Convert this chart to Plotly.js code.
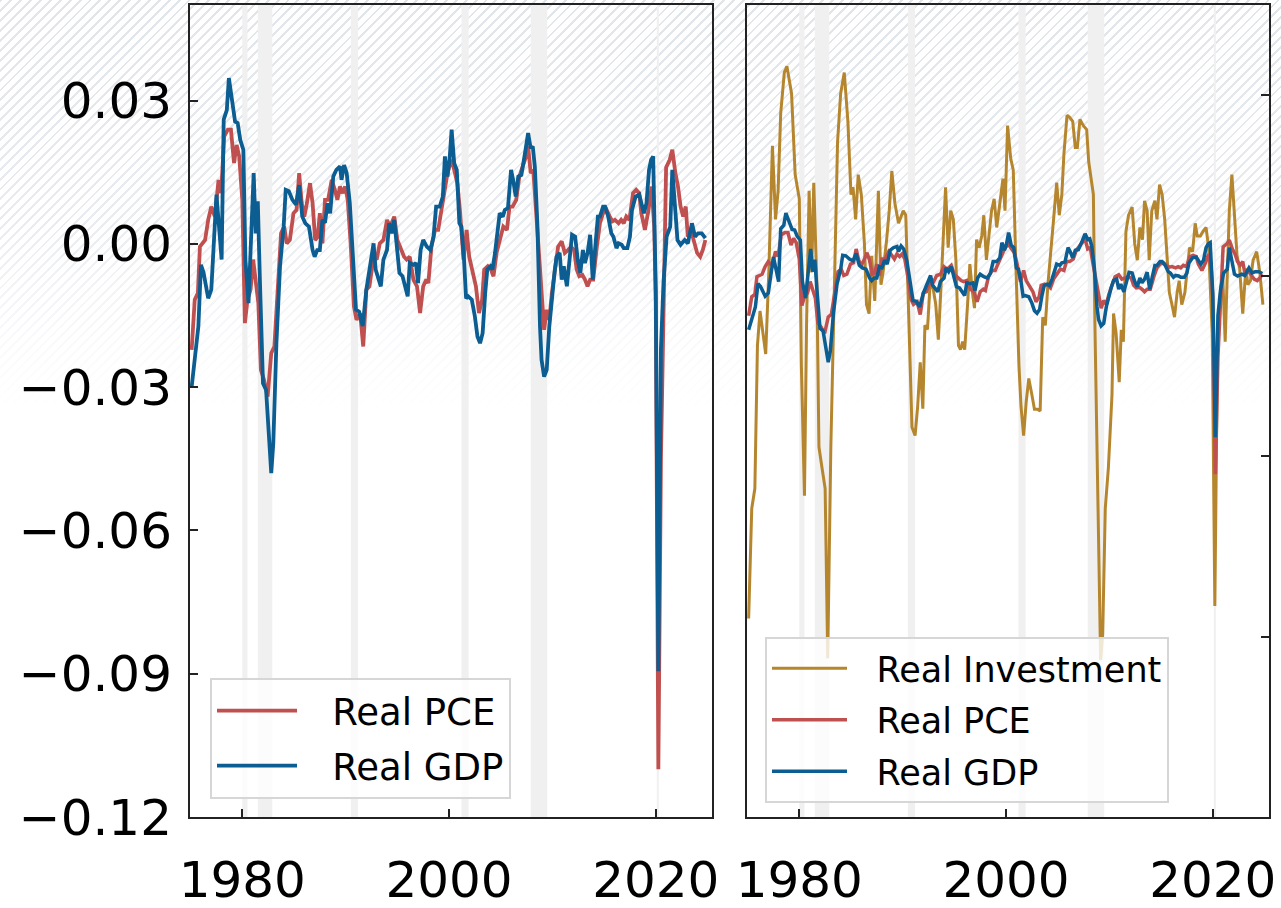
<!DOCTYPE html>
<html>
<head>
<meta charset="utf-8">
<script src="https://cdn.plot.ly/plotly-3.0.1.min.js"></script>
<style>
  html, body { margin: 0; padding: 0; background: #fff; }
  #wrap {
    width: 1281px; height: 908px; position: relative;
    background-color: #fff;
    background-image:
      linear-gradient(to bottom, rgba(255,255,255,0) 0px, rgba(255,255,255,0.25) 220px, rgba(255,255,255,0.8) 340px, #fff 410px),
      repeating-linear-gradient(135deg, rgba(200,208,218,0.55) 0px, rgba(200,208,218,0.55) 2px, rgba(255,255,255,0) 2px, rgba(255,255,255,0) 7px);
  }
  #chart { width: 1281px; height: 908px; }
</style>
</head>
<body>
<div id="wrap"><div id="chart"></div></div>
<script>
// ---- Data ----
var gdpYears = [1975.1,1975.75,1976.0,1976.25,1976.7,1977.0,1977.5,1977.7,1978.0,1978.2,1978.5,1978.7,1979.0,1979.3,1979.55,1979.8,1980.1,1980.3,1980.6,1980.8,1981.1,1981.3,1981.5,1981.7,1982.0,1982.3,1982.5,1982.8,1983.0,1983.3,1983.65,1984.0,1984.2,1984.5,1984.85,1985.2,1985.5,1985.8,1986.1,1986.45,1986.8,1987.0,1987.25,1987.5,1987.75,1988.0,1988.25,1988.5,1988.8,1989.1,1989.45,1989.6,1989.85,1990.1,1990.4,1990.75,1991.0,1991.3,1991.65,1992.0,1992.35,1992.7,1992.9,1993.4,1993.65,1994.0,1994.2,1994.45,1994.7,1994.95,1995.2,1995.5,1996.0,1996.2,1996.55,1996.8,1997.0,1997.25,1997.5,1997.85,1998.2,1998.5,1998.75,1999.1,1999.4,1999.6,1999.85,2000.05,2000.25,2000.5,2000.75,2001.0,2001.2,2001.45,2001.65,2001.85,2002.2,2002.5,2002.75,2003.0,2003.25,2003.5,2003.7,2004.0,2004.2,2004.45,2004.7,2004.9,2005.2,2005.4,2005.7,2006.0,2006.2,2006.45,2006.7,2007.0,2007.35,2007.65,2007.9,2008.1,2008.3,2008.55,2008.8,2008.95,2009.2,2009.45,2009.7,2009.95,2010.2,2010.4,2010.7,2010.9,2011.1,2011.4,2011.65,2011.9,2012.2,2012.45,2012.7,2012.95,2013.15,2013.4,2013.65,2013.9,2014.15,2014.4,2014.6,2014.9,2015.1,2015.4,2015.7,2015.9,2016.2,2016.4,2016.7,2016.9,2017.25,2017.5,2017.7,2018.05,2018.4,2018.6,2018.85,2019.1,2019.35,2019.55,2019.75,2020.0,2020.25,2020.5,2020.75,2021.05,2021.4,2021.6,2021.85,2022.1,2022.4,2022.8,2023.1,2023.5,2023.8,2024.1,2024.45,2024.8];
var gdpValues = [-0.030,-0.0173,-0.0044,-0.0060,-0.0114,-0.0096,0.0103,0.0050,-0.0033,0.0260,0.0280,0.0347,0.0300,0.0256,0.0253,0.0218,0.0197,-0.0033,-0.0124,-0.0006,0.0148,0.0022,0.0089,-0.0075,-0.0292,-0.0306,-0.0382,-0.0480,-0.0417,-0.0208,-0.0047,0.0036,0.0113,0.0110,0.0092,0.0082,0.0123,0.0057,0.0043,0.0036,-0.0013,-0.0027,-0.0013,-0.0013,0.0050,0.0044,0.0085,0.0064,0.0141,0.0155,0.0162,0.0134,0.0165,0.0148,0.0085,-0.0047,-0.0138,-0.0142,-0.0172,-0.0096,-0.0047,0.0001,-0.0054,-0.0089,-0.0033,-0.0013,0.0043,0.0022,0.0050,-0.0006,-0.0061,-0.0068,-0.0110,-0.0040,-0.0044,-0.0040,-0.0082,-0.0013,0.0008,-0.0006,-0.0013,0.0015,0.0078,0.0078,0.0099,0.0183,0.0141,0.0176,0.0239,0.0169,0.0155,0.0043,0.0036,-0.0033,-0.0114,-0.0110,-0.0117,-0.0152,-0.0194,-0.0208,-0.0187,-0.0103,-0.0054,-0.0047,-0.0054,-0.0019,0.0022,0.0064,0.0057,0.0071,0.0075,0.0155,0.0134,0.0099,0.0141,0.0144,0.0190,0.0232,0.0200,0.0204,0.0162,0.0040,-0.0173,-0.0243,-0.0278,-0.0264,-0.0173,-0.0110,-0.0061,-0.0027,-0.0019,-0.0075,-0.0047,-0.0089,-0.0027,0.0019,0.0015,-0.0033,-0.0061,-0.0013,-0.0040,-0.0019,0.0019,-0.0075,-0.0006,0.0057,0.0057,0.0078,0.0078,0.0057,0.0022,0.0015,-0.0009,0.0001,-0.0002,-0.0009,-0.0009,0.0015,0.0071,0.0099,0.0103,0.0085,0.0064,0.0085,0.0155,0.0176,0.0183,-0.0100,-0.0895,-0.0220,-0.0080,0.0015,0.0036,0.0155,0.0092,0.0008,-0.0002,0.0008,0.0001,0.0043,0.0015,0.0022,0.0022,0.0012];

var pceYears = [1975.1,1975.4,1975.7,1975.9,1976.4,1976.7,1977.0,1977.35,1977.7,1977.95,1978.25,1978.6,1978.9,1979.2,1979.45,1979.7,1980.0,1980.25,1980.5,1980.8,1981.05,1981.3,1981.55,1981.8,1982.1,1982.45,1982.8,1983.1,1983.4,1983.75,1984.05,1984.3,1984.6,1984.95,1985.25,1985.5,1985.75,1986.0,1986.25,1986.55,1986.8,1987.05,1987.3,1987.5,1987.75,1988.0,1988.3,1988.65,1988.95,1989.2,1989.45,1989.7,1989.95,1990.2,1990.5,1990.8,1991.05,1991.4,1991.7,1992.0,1992.3,1992.7,1993.0,1993.3,1993.65,1994.0,1994.3,1994.7,1995.0,1995.3,1995.65,1995.9,1996.2,1996.55,1996.9,1997.2,1997.5,1997.8,1998.0,1998.3,1998.65,1998.95,1999.3,1999.6,1999.85,2000.2,2000.5,2000.8,2001.05,2001.4,2001.7,2001.95,2002.3,2002.6,2002.9,2003.2,2003.4,2003.75,2004.05,2004.3,2004.6,2004.9,2005.25,2005.6,2005.85,2006.15,2006.5,2006.8,2007.1,2007.45,2007.65,2007.9,2008.15,2008.4,2008.7,2009.0,2009.2,2009.45,2009.7,2009.95,2010.25,2010.55,2010.9,2011.2,2011.5,2011.8,2012.1,2012.35,2012.6,2012.9,2013.15,2013.4,2013.65,2013.95,2014.3,2014.6,2014.9,2015.25,2015.55,2015.8,2016.05,2016.4,2016.65,2016.9,2017.15,2017.45,2017.8,2018.1,2018.4,2018.6,2018.95,2019.3,2019.6,2019.85,2020.0,2020.25,2020.5,2020.75,2021.0,2021.35,2021.6,2021.9,2022.15,2022.4,2022.65,2022.9,2023.1,2023.4,2023.7,2024.0,2024.3,2024.55,2024.8];
var pceValues = [-0.0222,-0.0117,-0.0103,-0.0006,0.0008,0.0050,0.0078,0.0057,0.0134,0.0106,0.0225,0.0239,0.0239,0.0169,0.0207,0.0183,0.0092,-0.0166,-0.0117,-0.0096,-0.0033,-0.0082,-0.0124,-0.0264,-0.0285,-0.0320,-0.0229,-0.0215,-0.0096,0.0022,0.0036,0.0001,0.0008,0.0064,0.0071,0.0148,0.0085,0.0057,0.0085,0.0127,0.0085,0.0008,0.0015,0.0064,0.0001,0.0092,0.0092,0.0134,0.0113,0.0092,0.0120,0.0106,0.0120,0.0092,-0.0006,-0.0131,-0.0159,-0.0145,-0.0215,-0.0096,-0.0089,-0.0027,-0.0033,0.0001,0.0008,0.0050,0.0036,0.0057,0.0008,-0.0009,-0.0027,-0.0033,-0.0027,-0.0075,-0.0089,-0.0145,-0.0089,-0.0075,-0.0082,-0.0006,0.0029,0.0029,0.0078,0.0113,0.0148,0.0176,0.0155,0.0127,0.0071,-0.0033,0.0029,-0.0027,-0.0061,-0.0089,-0.0145,-0.0117,-0.0054,-0.0047,-0.0054,-0.0068,-0.0019,0.0008,0.0036,0.0029,0.0078,0.0078,0.0092,0.0141,0.0162,0.0183,0.0204,0.0148,0.0155,0.0071,-0.0033,-0.0138,-0.0180,-0.0138,-0.0159,-0.0103,-0.0047,-0.0006,0.0005,-0.0019,-0.0013,-0.0006,-0.0013,-0.0054,-0.0068,-0.0065,-0.0075,-0.0089,-0.0075,-0.0075,-0.0006,0.0043,0.0064,0.0071,0.0057,0.0047,0.0050,0.0043,0.0050,0.0043,0.0057,0.0050,0.0106,0.0113,0.0106,0.0064,0.0029,0.0071,0.0120,0.0036,-0.0120,-0.1100,-0.0450,-0.0100,0.0160,0.0176,0.0197,0.0148,0.0120,0.0078,0.0057,0.0078,0.0015,0.0029,0.0008,-0.0019,-0.0027,-0.0013,0.0008];

var invYears = [1975.1,1975.4,1975.7,1975.95,1976.2,1976.5,1976.75,1977.05,1977.4,1977.7,1977.95,1978.2,1978.55,1978.8,1979.25,1979.6,1980.0,1980.2,1980.5,1980.7,1980.95,1981.2,1981.4,1981.7,1981.9,1982.2,1982.5,1982.75,1983.05,1983.4,1983.7,1984.0,1984.35,1984.7,1985.0,1985.2,1985.45,1985.7,1986.0,1986.3,1986.5,1986.75,1987.0,1987.3,1987.65,1987.9,1988.1,1988.45,1988.7,1988.95,1989.25,1989.6,1989.85,1990.05,1990.3,1990.55,1990.9,1991.2,1991.45,1991.7,1991.95,1992.15,1992.4,1992.65,1992.95,1993.2,1993.45,1993.7,1993.9,1994.15,1994.4,1994.65,1994.9,1995.15,1995.4,1995.6,1995.8,1996.0,1996.3,1996.5,1996.75,1996.95,1997.15,1997.4,1997.65,1997.85,1998.1,1998.4,1998.6,1998.85,1999.1,1999.4,1999.7,1999.9,2000.15,2000.45,2000.7,2000.95,2001.25,2001.45,2001.7,2001.95,2002.2,2002.5,2002.75,2003.05,2003.3,2003.55,2003.8,2004.05,2004.35,2004.6,2004.9,2005.15,2005.4,2005.6,2005.9,2006.15,2006.45,2006.7,2006.9,2007.15,2007.5,2007.8,2008.0,2008.2,2008.45,2008.6,2008.85,2009.0,2009.15,2009.35,2009.6,2009.9,2010.25,2010.4,2010.65,2010.95,2011.15,2011.35,2011.6,2011.85,2012.2,2012.45,2012.7,2012.95,2013.2,2013.4,2013.65,2013.85,2014.1,2014.4,2014.6,2014.85,2015.1,2015.35,2015.6,2015.8,2016.05,2016.3,2016.55,2016.75,2017.0,2017.3,2017.5,2017.75,2018.05,2018.3,2018.5,2018.8,2019.05,2019.35,2019.6,2019.95,2020.2,2020.45,2020.7,2020.95,2021.2,2021.45,2021.6,2021.85,2022.1,2022.35,2022.6,2022.9,2023.2,2023.4,2023.65,2023.9,2024.25,2024.55,2024.85];
var invValues = [-0.190,-0.129,-0.118,-0.0388,-0.0196,-0.032,-0.0434,0.0018,0.072,0.0312,0.047,0.090,0.1126,0.116,0.101,0.056,0.0426,-0.050,-0.122,-0.0275,0.047,0.0018,0.0515,-0.005,-0.095,-0.1066,-0.118,-0.212,-0.095,-0.005,0.074,0.101,0.1126,0.0855,0.0449,0.049,0.0312,0.056,0.0449,0.0177,-0.016,-0.021,0.011,-0.014,0.047,-0.005,0.0018,0.020,0.036,0.058,0.040,0.029,0.0335,0.036,0.0335,-0.016,-0.084,-0.0886,-0.0725,-0.048,-0.0737,-0.0275,-0.0298,-0.005,-0.0072,-0.016,-0.0355,-0.0072,0.020,0.049,0.0155,0.036,0.0312,0.0086,-0.0388,-0.041,-0.0366,-0.041,-0.014,0.0064,-0.0094,-0.018,0.020,0.0155,0.022,0.0335,0.0088,0.0267,0.036,0.0426,0.0267,0.040,0.0538,0.036,0.0832,0.065,0.0584,0.0064,-0.050,-0.0725,-0.0886,-0.070,-0.057,-0.066,-0.074,-0.074,-0.075,-0.023,-0.0275,-0.005,0.0177,0.0312,0.0515,0.0335,0.045,0.0675,0.0889,0.0878,0.0855,0.071,0.071,0.0866,0.083,0.081,0.063,0.0538,0.045,-0.0275,-0.118,-0.185,-0.213,-0.199,-0.129,-0.1066,-0.066,-0.021,-0.032,-0.059,-0.030,-0.0366,0.0245,0.0335,0.038,0.0177,0.0086,0.0267,0.020,0.0415,0.036,0.0086,0.036,0.0415,0.0312,0.0504,0.045,0.0312,0.011,-0.0094,-0.016,-0.023,-0.0094,-0.0028,-0.016,-0.0094,0.0018,0.0155,0.0133,0.029,0.022,0.022,0.0245,0.0267,0.0155,-0.032,-0.183,-0.043,-0.0115,0.0018,-0.0366,0.004,0.036,0.056,0.031,0.011,0.004,-0.021,0.004,-0.005,-0.0028,0.0086,0.0133,0.0018,-0.016];

// Recession periods (start, end in decimal years)
var recessionStart = [1980.0, 1981.5, 1990.5, 2001.2, 2007.9, 2020.1];
var recessionEnd   = [1980.5, 1982.9, 1991.2, 2001.9, 2009.5, 2020.3];

var xTickVals = [1980, 2000, 2020];
var yTickValsLeft = [-0.12, -0.09, -0.06, -0.03, 0.00, 0.03];
var yTickValsRight = [-0.3, -0.2, -0.1, 0.0, 0.1];

// legend labels (leading spaces give the gap between sample line and text)
var padL = '\u2002\u00a0', padR = '\u2002\u2009';

// ---- Styling ----
var FONT = 'DejaVu Sans';
var cPCE = '#c0504f', cGDP = '#0b5d92', cINV = '#b6862f';
var W = 1281, H = 908;

var traces = [
  {x: pceYears, y: pceValues, name: padL + 'Real PCE', type: 'scatter', mode: 'lines',
   line: {color: cPCE, width: 3.8}, xaxis: 'x', yaxis: 'y', legend: 'legend', legendgroup: 'pceL'},
  {x: gdpYears, y: gdpValues, name: padL + 'Real GDP', type: 'scatter', mode: 'lines',
   line: {color: cGDP, width: 3.8}, xaxis: 'x', yaxis: 'y', legend: 'legend', legendgroup: 'gdpL'},
  {x: invYears, y: invValues, name: padR + 'Real Investment', type: 'scatter', mode: 'lines',
   line: {color: cINV, width: 3}, xaxis: 'x2', yaxis: 'y2', legend: 'legend2', legendgroup: 'invR'},
  {x: pceYears, y: pceValues, name: padR + 'Real PCE', type: 'scatter', mode: 'lines',
   line: {color: cPCE, width: 3.5}, xaxis: 'x2', yaxis: 'y2', legend: 'legend2', legendgroup: 'pceR'},
  {x: gdpYears, y: gdpValues, name: padR + 'Real GDP', type: 'scatter', mode: 'lines',
   line: {color: cGDP, width: 3.5}, xaxis: 'x2', yaxis: 'y2', legend: 'legend2', legendgroup: 'gdpR'}
];

var shapes = [];
['x', 'x2'].forEach(function (xr) {
  var yr = xr === 'x' ? 'y domain' : 'y2 domain';
  for (var i = 0; i < recessionStart.length; i++) {
    shapes.push({type: 'rect', xref: xr, yref: yr, x0: recessionStart[i], x1: recessionEnd[i],
      y0: 0, y1: 1, fillcolor: '#f0f0f0', line: {width: 0}, layer: 'below'});
  }
});

var yDom = [1 - 817 / H, 1 - 5 / H];
var xr = [1974.94, 2025.44];
function xAxis(dom, anchor) {
  return {domain: dom, range: xr, anchor: anchor, tickvals: xTickVals, ticks: 'inside',
    ticklen: 8, tickwidth: 2, tickcolor: '#222', showline: true, linewidth: 2, linecolor: '#222',
    mirror: true, showgrid: false, zeroline: false, ticklabelstandoff: 18,
    tickfont: {family: FONT, size: 50, color: '#000'}, fixedrange: true};
}

var layout = {
  width: W, height: H,
  margin: {l: 0, r: 0, t: 0, b: 0, pad: 0},
  paper_bgcolor: 'rgba(0,0,0,0)', plot_bgcolor: 'rgba(0,0,0,0)',
  font: {family: FONT, color: '#000'},
  showlegend: true,
  xaxis: xAxis([190 / W, 712 / W], 'y'),
  xaxis2: xAxis([747 / W, 1269 / W], 'y2'),
  yaxis: {domain: yDom, range: [-0.12, 0.05], anchor: 'x', tickvals: yTickValsLeft, tickformat: '.2f',
    ticks: 'inside', ticklen: 8, tickwidth: 2, tickcolor: '#222', showline: true, linewidth: 2,
    linecolor: '#222', mirror: true, showgrid: false, zeroline: false, ticklabelstandoff: 6,
    tickfont: {family: FONT, size: 50, color: '#000'}, fixedrange: true},
  yaxis2: {domain: yDom, range: [-0.30, 0.15], anchor: 'x2', side: 'right', tickvals: yTickValsRight,
    showticklabels: false, ticks: 'inside', ticklen: 8, tickwidth: 2, tickcolor: '#222',
    showline: true, linewidth: 2, linecolor: '#222', mirror: true, showgrid: false, zeroline: false,
    fixedrange: true},
  legend: {x: 210 / W, y: 1 - 678 / H, xanchor: 'left', yanchor: 'top',
    bgcolor: 'rgba(255,255,255,0.8)', bordercolor: '#d6d6d6', borderwidth: 2,
    font: {family: FONT, size: 37, color: '#000'}, itemwidth: 80, tracegroupgap: 4},
  legend2: {x: 765 / W, y: 1 - 637 / H, xanchor: 'left', yanchor: 'top',
    bgcolor: 'rgba(255,255,255,0.8)', bordercolor: '#d6d6d6', borderwidth: 2,
    font: {family: FONT, size: 35, color: '#000'}, itemwidth: 75, tracegroupgap: 3},
  shapes: shapes
};

Plotly.newPlot('chart', traces, layout, {staticPlot: true, displayModeBar: false});
</script>
</body>
</html>
